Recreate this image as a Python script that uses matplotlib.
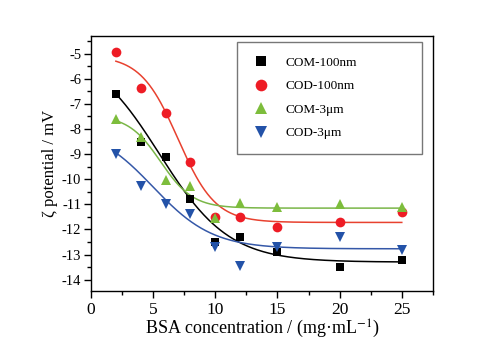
import matplotlib

matplotlib.use("Agg")
import matplotlib.pyplot as plt
import numpy as np
from matplotlib.ticker import MultipleLocator

# BSA concentration (mg/mL)
conc = [2, 4, 6, 8, 10, 12, 15, 20, 25]

# zeta potential readings (mV)
com_100nm = [-6.6, -8.5, -9.1, -10.8, -12.5, -12.3, -12.9, -13.5, -13.2]
cod_100nm = [-4.95, -6.35, -7.35, -9.3, -11.5, -11.5, -11.9, -11.7, -11.3]
com_3um = [-7.6, -8.3, -10.05, -10.25, -11.55, -10.95, -11.1, -11.0, -11.1]
cod_3um = [-9.0, -10.25, -11.0, -11.4, -12.7, -13.45, -12.7, -12.3, -12.8]

# Boltzmann fit parameters (A1, A2, x0, dx)
fit_com_100nm = (-4.68, -13.30, 5.5, 2.8)
fit_cod_100nm = (-5.07, -11.72, 7.0, 1.5)
fit_com_3um = (-7.45, -11.15, 5.6, 1.3)
fit_cod_3um = (-7.85, -12.77, 5.0, 2.4)

labels = ["COM-100nm", "COD-100nm", "COM-3μm", "COD-3μm"]


def boltzmann(x, a1, a2, x0, dx):
    return a2 + (a1 - a2) / (1 + np.exp((x - x0) / dx))


plt.rcParams["font.family"] = ["Liberation Serif", "DejaVu Serif"]
plt.rcParams["mathtext.fontset"] = "stix"
plt.rcParams["axes.unicode_minus"] = False

fig = plt.figure(figsize=(4.88, 3.54), dpi=100)
ax = fig.add_axes([0.1865, 0.178, 0.7005, 0.72])

series = [
    (com_100nm, fit_com_100nm, "s", "#000000", "#000000", 5.8),
    (cod_100nm, fit_cod_100nm, "o", "#ee1c25", "#e8412f", 7.0),
    (com_3um, fit_com_3um, "^", "#7dbd3c", "#7ab648", 7.4),
    (cod_3um, fit_cod_3um, "v", "#2352a8", "#3558a8", 7.4),
]

xs = np.linspace(conc[0], conc[-1], 300)
for (vals, fit, marker, mcolor, lcolor, ms), label in zip(series, labels):
    ax.plot(xs, boltzmann(xs, *fit), color=lcolor, lw=1.1, zorder=2)
    ax.plot(conc, vals, linestyle="none", marker=marker, color=mcolor,
            markersize=ms, markeredgewidth=0, label=label, zorder=3)

ax.set_xlim(0, 27.5)
ax.set_ylim(-14.45, -4.3)
ax.xaxis.set_major_locator(MultipleLocator(5))
ax.xaxis.set_minor_locator(MultipleLocator(2.5))
ax.yaxis.set_major_locator(MultipleLocator(1))
ax.yaxis.set_minor_locator(MultipleLocator(0.5))
ax.tick_params(which="both", direction="out", top=False, right=False, width=1)
ax.tick_params(which="major", length=5)
ax.tick_params(which="minor", length=3)
ax.tick_params(axis="x", labelsize=12.5, pad=3)
ax.tick_params(axis="y", labelsize=10.5, pad=2)
for sp in ax.spines.values():
    sp.set_linewidth(1)

ax.set_xlabel("BSA concentration / (mg·mL$^{-1}$)", fontsize=13, labelpad=0)
ax.set_ylabel("ζ potential / mV", fontsize=12, labelpad=3)

leg = ax.legend(loc="upper left", bbox_to_anchor=(0.427, 0.522, 0.541, 0.454),
                mode="expand", fontsize=9.5, frameon=True, fancybox=False,
                edgecolor="#555555", borderpad=1.1, labelspacing=0.85,
                handlelength=1.5, handletextpad=1.1, borderaxespad=0,
                markerscale=1.2)
leg.get_frame().set_linewidth(1)

fig.savefig("out.png", dpi=100, facecolor="white")
